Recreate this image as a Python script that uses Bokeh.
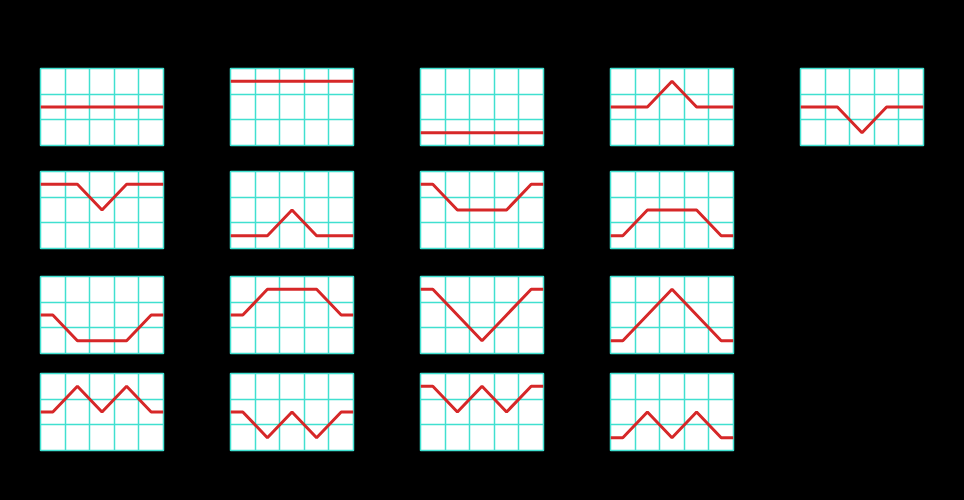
from bokeh.plotting import figure
from bokeh.layouts import column, row
from bokeh.models import FixedTicker, Range1d
from bokeh.embed import file_html
from bokeh.resources import INLINE

# x positions of the breakpoints (shared by every panel)
x_points = [0, 0.5, 1.5, 2.5, 3.5, 4.5, 5]

# one series per panel, rows of the grid
row1_flat_mid = [0, 0, 0, 0, 0, 0, 0]
row1_flat_high = [1, 1, 1, 1, 1, 1, 1]
row1_flat_low = [-1, -1, -1, -1, -1, -1, -1]
row1_peak = [0, 0, 0, 1, 0, 0, 0]
row1_dip = [0, 0, 0, -1, 0, 0, 0]

row2_high_dip = [1, 1, 1, 0, 1, 1, 1]
row2_low_peak = [-1, -1, -1, 0, -1, -1, -1]
row2_high_trough = [1, 1, 0, 0, 0, 1, 1]
row2_low_plateau = [-1, -1, 0, 0, 0, -1, -1]

row3_mid_trough = [0, 0, -1, -1, -1, 0, 0]
row3_mid_plateau = [0, 0, 1, 1, 1, 0, 0]
row3_v = [1, 1, 0, -1, 0, 1, 1]
row3_inv_v = [-1, -1, 0, 1, 0, -1, -1]

row4_mid_m = [0, 0, 1, 0, 1, 0, 0]
row4_mid_w = [0, 0, -1, 0, -1, 0, 0]
row4_high_w = [1, 1, 0, 1, 0, 1, 1]
row4_low_m = [-1, -1, 0, -1, 0, -1, -1]

rows_data = [
    [row1_flat_mid, row1_flat_high, row1_flat_low, row1_peak, row1_dip],
    [row2_high_dip, row2_low_peak, row2_high_trough, row2_low_plateau],
    [row3_mid_trough, row3_mid_plateau, row3_v, row3_inv_v],
    [row4_mid_m, row4_mid_w, row4_high_w, row4_low_m],
]

x_grid = [0, 1, 2, 3, 4, 5]
y_grid = [-1.5, -0.5, 0.5, 1.5]

# layout per row: (border_top, border_bottom)
row_borders = [(68, 16), (10, 18), (10, 10), (10, 42)]
FRAME_W, FRAME_H = 123, 77
CELL_W = 190
LEFT = 32

GRID_COLOR = "#40e0d0"
LINE_COLOR = "#d62728"


def make_panel(values, top, bottom, first):
    left = LEFT + (8 if first else 0)
    w = CELL_W + (8 if first else 0)
    p = figure(
        width=w, height=top + FRAME_H + bottom,
        output_backend="svg", toolbar_location=None,
        x_axis_location=None, y_axis_location=None,
        x_range=Range1d(0, 5), y_range=Range1d(-1.5, 1.5),
        min_border_left=left, min_border_right=w - left - FRAME_W,
        min_border_top=top, min_border_bottom=bottom,
        background_fill_color="white", border_fill_color="black",
        outline_line_color=GRID_COLOR, outline_line_width=1.5,
    )
    p.xgrid.ticker = FixedTicker(ticks=x_grid)
    p.ygrid.ticker = FixedTicker(ticks=y_grid)
    p.grid.grid_line_color = GRID_COLOR
    p.grid.grid_line_width = 1.5
    p.grid.grid_line_alpha = 1.0
    p.line(x_points, values, line_color=LINE_COLOR, line_width=3)
    return p


rows = []
for data, (t, b) in zip(rows_data, row_borders):
    rows.append(row(*[make_panel(v, t, b, i == 0) for i, v in enumerate(data)], spacing=0))

layout = column(*rows, spacing=0, background="black")

html = file_html(layout, INLINE)
html = html.replace("<head>", "<head><style>html, body { background: #000000; }</style>", 1)
open("out.html", "w").write(html)
